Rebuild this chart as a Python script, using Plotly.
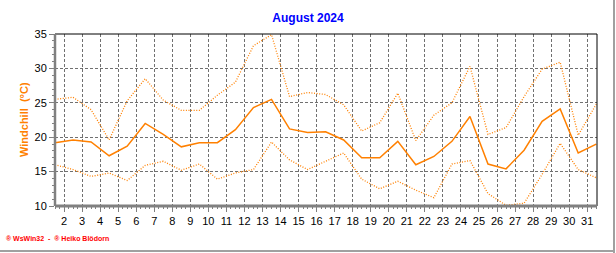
import plotly.graph_objects as go

days = list(range(1, 32))
wc_max = [25.5, 25.8, 24.0, 19.6, 25.3, 28.5, 25.4, 23.9, 23.9, 26.1, 28.0, 33.3, 34.9, 25.9, 26.5,
          26.2, 24.7, 20.9, 22.1, 26.4, 19.5, 23.2, 25.0, 30.3, 20.4, 21.4, 25.9, 29.9, 30.9, 20.3, 24.8]
wc_avg = [19.2, 19.6, 19.3, 17.3, 18.7, 22.0, 20.4, 18.6, 19.2, 19.2, 21.1, 24.3, 25.5, 21.2, 20.7,
          20.8, 19.6, 17.0, 17.0, 19.4, 16.0, 17.2, 19.4, 23.0, 16.1, 15.4, 18.1, 22.3, 24.1, 17.7, 19.0]
wc_min = [16.0, 15.3, 14.3, 14.8, 13.7, 15.9, 16.5, 15.2, 16.1, 13.9, 14.8, 15.3, 19.3, 16.7, 15.3,
          16.5, 17.7, 13.9, 12.5, 13.6, 12.3, 11.2, 16.1, 16.6, 11.8, 10.1, 10.4, 14.6, 19.1, 15.3, 14.1]
title_text = "August 2024"
y_label = "Windchill  (°C)"
footer = "® WsWin32  -  ® Heiko Blödorn"

xs = [f"2024-08-{d:02d} 12:00" for d in days]
orange = "#FF8000"

fig = go.Figure()
fig.add_trace(go.Scatter(x=xs, y=wc_max, mode="lines", line=dict(color=orange, width=1.3, dash="1px,1.6px")))
fig.add_trace(go.Scatter(x=xs, y=wc_min, mode="lines", line=dict(color=orange, width=1.3, dash="1px,1.6px")))
fig.add_trace(go.Scatter(x=xs, y=wc_avg, mode="lines", line=dict(color=orange, width=1.5)))

L, R, T, B = 55, 19, 34, 47
fig.update_layout(
    width=616, height=253, margin=dict(l=L, r=R, t=T, b=B),
    paper_bgcolor="white", plot_bgcolor="white", showlegend=False,
    font=dict(family="Arial, Liberation Sans", size=11, color="black"),
    title=dict(text="<b>" + title_text + "</b>", font=dict(color="#0000FF", size=12, family="Arial, Liberation Sans"),
               x=0.5, xref="container", xanchor="center", y=1 - 18 / 253, yref="container", yanchor="middle"),
)
fig.update_xaxes(
    type="date", range=["2024-08-01 12:00", "2024-08-31 13:00"],
    tickformat="%-d", dtick=86400000, tick0="2024-08-02",
    ticks="outside", ticklen=5, tickcolor="#808080",
    showgrid=True, gridcolor="#707070", griddash="3px,2px", gridwidth=1,
    minor=dict(dtick=6 * 3600 * 1000, ticks="outside", ticklen=2, tickcolor="#808080", showgrid=False),
    showline=False, zeroline=False, tickfont=dict(size=11),
)
fig.update_yaxes(
    range=[10, 35], dtick=5, ticks="outside", ticklen=5, tickcolor="#808080",
    showgrid=True, gridcolor="#707070", griddash="3px,2px", gridwidth=1,
    minor=dict(dtick=1, ticks="outside", ticklen=2, tickcolor="#808080", showgrid=False),
    showline=False, zeroline=False, tickfont=dict(size=11),
)
pw = 616 - L - R
ph = 253 - T - B
shapes = [
    dict(type="line", xref="paper", yref="paper", x0=0, x1=1, y0=1, y1=1, line=dict(color="black", width=1)),
    dict(type="line", xref="paper", yref="paper", x0=1, x1=1, y0=0, y1=1, line=dict(color="black", width=1)),
    dict(type="line", xref="paper", yref="paper", x0=0, x1=1, y0=0, y1=0, line=dict(color="#808080", width=3)),
    dict(type="line", xref="paper", yref="paper", x0=0, x1=0, y0=0, y1=1, line=dict(color="#808080", width=2.5)),
    dict(type="line", xref="paper", yref="paper", x0=(614 - L) / pw, x1=(614 - L) / pw,
         y0=(253 - B - 253) / ph, y1=(253 - B - 0) / ph, line=dict(color="#A0A0A0", width=2)),
    dict(type="line", xref="paper", yref="paper", x0=(0 - L) / pw, x1=(615 - L) / pw,
         y0=(253 - B - 251) / ph, y1=(253 - B - 251) / ph, line=dict(color="#A0A0A0", width=2)),
]
fig.update_layout(shapes=shapes)
fig.add_annotation(text="<b>" + y_label + "</b>", xref="paper", yref="paper",
                   x=(24 - L) / pw, y=0.5, textangle=-90, showarrow=False,
                   font=dict(color=orange, size=11, family="Arial, Liberation Sans"),
                   xanchor="center", yanchor="middle")
fig.add_annotation(text="<b>" + footer + "</b>", xref="paper", yref="paper",
                   x=(4 - L) / pw, y=(253 - B - 239) / ph, showarrow=False,
                   font=dict(color="#FF0000", size=7, family="Arial, Liberation Sans"),
                   xanchor="left", yanchor="middle")
fig.write_html("out.html")
